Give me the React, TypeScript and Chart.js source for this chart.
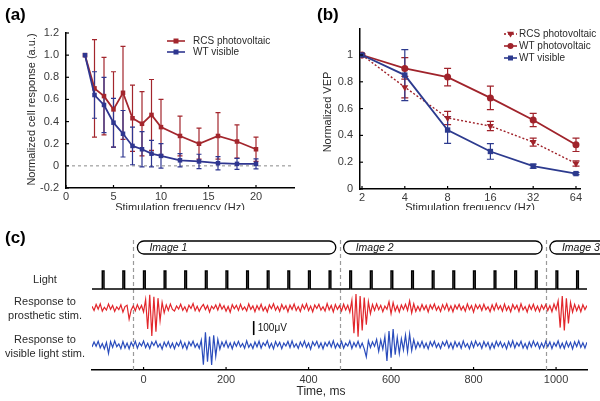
import React, { useEffect, useRef } from "react";
import { Chart, registerables } from "chart.js";

Chart.register(...registerables);

const FONT = '"Liberation Sans", Arial, Helvetica, sans-serif';
Chart.defaults.font.family = FONT;

// ---------------- Panel (a) data ----------------
const A_SERIES = ["RCS photovoltaic", "WT visible"];
const A_FREQ = [2, 3, 4, 5, 6, 7, 8, 9, 10, 12, 14, 16, 18, 20];
const A_RCS = [1.0, 0.70, 0.63, 0.51, 0.66, 0.43, 0.38, 0.46, 0.35, 0.27, 0.20, 0.27, 0.22, 0.15];
const A_RCS_ERR = [0, 0.44, 0.35, 0.34, 0.42, 0.30, 0.29, 0.32, 0.25, 0.18, 0.14, 0.21, 0.15, 0.11];
const A_WT = [1.0, 0.64, 0.55, 0.39, 0.29, 0.18, 0.15, 0.11, 0.09, 0.05, 0.04, 0.024, 0.018, 0.018];
const A_WT_ERR = [0, 0.21, 0.25, 0.22, 0.21, 0.17, 0.16, 0.12, 0.11, 0.06, 0.065, 0.06, 0.05, 0.045];
const A_X_TICKS = [0, 5, 10, 15, 20];
const A_Y_TICKS = [-0.2, 0, 0.2, 0.4, 0.6, 0.8, 1.0, 1.2];

// ---------------- Panel (b) data ----------------
const B_SERIES = ["RCS photovoltaic", "WT photovoltaic", "WT visible"];
const B_FREQ = [2, 4, 8, 16, 32, 64];
const B_RCS = [1.0, 0.76, 0.53, 0.47, 0.35, 0.19];
const B_RCS_ERR = [0, 0.08, 0.05, 0.035, 0.03, 0.02];
const B_WTP = [1.0, 0.90, 0.835, 0.68, 0.515, 0.33];
const B_WTP_ERR = [0, 0.08, 0.065, 0.087, 0.05, 0.05];
const B_WTV = [1.0, 0.85, 0.44, 0.28, 0.17, 0.115];
const B_WTV_ERR = [0, 0.19, 0.10, 0.058, 0.015, 0.008];
const B_X_TICKS = [2, 4, 8, 16, 32, 64];
const B_Y_TICKS = [0, 0.2, 0.4, 0.6, 0.8, 1];

// ---------------- Panel (c) data ----------------
const C_T0 = -125; // ms, time of first sample
const C_DT = 5; // ms between samples
const C_RED = [
  12, -18, 25, -8, 30, -22, 5, -15, 28, -10, 18, -25, 8, -12, 22, -30, 10, 20, -80, -14,
  15, -20, 24, -12, 18, -28, 60, -150, 95, -200, 80, -170, 70, -90, 40, -35, 22, -18, 28, -10,
  -22, 14, -8, 27, -16, 9, -26, 20, -4, 31, -19, 12, -24, 6, 25, -11, 17, -29, 13, -7,
  21, -15, 28, -9, 16, -23, 11, -30, 24, -6, 19, -17, 27, -13, 8, -21, 29, -10, 15, -26,
  18, -12, 26, -20, 7, -28, 22, -5, 30, -16, 12, -24, 25, -9, 17, -27, 20, -11, 28, -18,
  10, -25, 23, -8, 29, -19, 14, -27, 21, -4, 26, -15, 9, -22, 31, -13, 18, -28, 24, -10,
  16, -21, 27, -14, 20, -30, 55, -180, 100, -205, 85, -160, 75, -120, 45, -40, 25, -17, 29, -12,
  19, -26, 14, -9, 45, -40, 38, -22, 16, -28, 21, -11, 27, -18, 50, -35, 30, -24, 12, -20,
  25, -13, 18, -29, 22, -7, 28, -16, 11, -25, 24, -10, 30, -19, 15, -27, 20, -8, 26, -14,
  13, -23, 29, -11, 17, -30, 24, -6, 21, -18, 27, -12, 9, -26, 23, -15, 31, -9, 16, -22,
  28, -17, 12, -27, 25, -8, 19, -24, 30, -14, 10, -29, 22, -11, 26, -20, 14, -25, 21, -9,
  24, -18, 17, -26, 28, -12, 50, -140, 85, -160, 70, -110, 40, -30, 26, -20, 18, -27, 23, -11,
  17,
];
const C_BLUE = [
  -14, 22, -9, 27, -20, 11, -28, 18, -60, 24, -17, 30, -12, 8, -26, 25, -21, 14, -27, 19,
  -10, 26, -23, 16, -7, 29, -18, 12, -25, 21, -4, 28, -15, 9, -30, 20, -11, 24, -19, 13,
  -26, 17, -8, 30, -21, 14, -29, 23, -6, 27, -16, 10, -24, 35, -140, 90, -120, 60, -143, 70,
  -80, 40, -30, 22, -12, 28, -19, 15, -27, 20, -9, 26, -14, 11, -23, 29, -17, 8, -25, 21,
  -13, 27, -22, 16, -6, 30, -20, 12, -28, 24, -10, 19, -26, 14, -8, 25, -18, 29, -15, 9,
  -24, 21, -11, 28, -17, 13, -30, 22, -5, 26, -19, 15, -27, 18, -9, 24, -14, 30, -21, 11,
  -16, 25, -23, 12, -8, 29, -25, 17, -12, 27, -20, 14, -28, -85, 30, -18, 22, -10, 40, -45,
  35, -30, 60, -114, 100, -90, 114, -70, 55, -60, 45, -35, 70, -50, 80, -40, 38, -25, 20, -15,
  26, -20, 13, -28, 23, -9, 27, -17, 11, -25, 21, -6, 30, -19, 15, -27, 24, -12, 18, -23,
  29, -14, 10, -26, 22, -18, 28, -7, 16, -24, 25, -11, 19, -29, 13, -21, 27, -9, 23, -16,
  12, -28, 24, -13, 30, -20, 17, -8, 26, -22, 11, -27, 21, -15, 28, -10, 18, -25, 14, -19,
  27, -12, 22, -26, 16, -9, 29, -21, 13, -24, 25, -14, 19, -28, 23, -11, 30, -17, 15, -22,
  20,
];
const C_PULSES = [-100, -50, 0, 50, 100, 150, 200, 250, 300, 350, 400, 450, 500, 550, 600, 650, 700, 750, 800, 850, 900, 950, 1000, 1050];
const C_PULSE_WIDTH = 4; // ms
const C_SWITCH = [-25, 475, 975];
const C_IMAGES = ["Image 1", "Image 2", "Image 3"];
const C_IMAGE_START = [-15, 485, 985];
const C_IMAGE_END = [466, 966, 1466];
const C_X_TICKS = [0, 200, 400, 600, 800, 1000];
const C_SCALEBAR_UV = 100;

// ---------------- styles ----------------
const RED_A = "#a3262d";
const BLUE_A = "#2f3690";
const RED_B = "#a0232b";
const BLUE_B = "#2c3a8e";
const RED_C = "#e2262b";
const BLUE_C = "#2a4cbc";
const TICK_COLOR = "#3a3a3a";
const TEXT_COLOR = "#2a2a2a";

const fixedTicks = (vals: number[]) => (scale: any) => {
  scale.ticks = vals.map((v) => ({ value: v }));
};

function axisBase(extra: any) {
  return {
    bounds: "data",
    grid: { display: false, drawTicks: false },
    border: { display: true, color: "#000", width: 1.5 },
    ...extra,
  };
}

function drawInwardTicks(chart: any, id: string, len: number) {
  const s = chart.scales[id];
  const ctx = chart.ctx;
  const a = chart.chartArea;
  ctx.save();
  ctx.strokeStyle = "#000";
  ctx.lineWidth = 1.2;
  s.ticks.forEach((t: any) => {
    const p = s.getPixelForValue(t.value);
    ctx.beginPath();
    if (s.isHorizontal()) {
      ctx.moveTo(p, a.bottom);
      ctx.lineTo(p, a.bottom - len);
    } else {
      ctx.moveTo(a.left, p);
      ctx.lineTo(a.left + len, p);
    }
    ctx.stroke();
  });
  ctx.restore();
}

function drawErrorBars(ctx: any, xs: any, ys: any, xv: number[], yv: number[], ev: number[], color: string, cap: number) {
  ctx.save();
  ctx.strokeStyle = color;
  ctx.lineWidth = 1.2;
  for (let i = 0; i < xv.length; i++) {
    if (!ev[i]) continue;
    const x = xs.getPixelForValue(xv[i]);
    const t = ys.getPixelForValue(yv[i] + ev[i]);
    const b = ys.getPixelForValue(yv[i] - ev[i]);
    ctx.beginPath();
    ctx.moveTo(x, t);
    ctx.lineTo(x, b);
    ctx.moveTo(x - cap, t);
    ctx.lineTo(x + cap, t);
    ctx.moveTo(x - cap, b);
    ctx.lineTo(x + cap, b);
    ctx.stroke();
  }
  ctx.restore();
}

function drawMarker(ctx: any, kind: string, x: number, y: number, size: number, color: string) {
  ctx.save();
  ctx.fillStyle = color;
  ctx.beginPath();
  if (kind === "rect") {
    ctx.rect(x - size / 2, y - size / 2, size, size);
  } else if (kind === "circle") {
    ctx.arc(x, y, size / 2, 0, Math.PI * 2);
  } else {
    ctx.moveTo(x - size / 2, y - size / 3);
    ctx.lineTo(x + size / 2, y - size / 3);
    ctx.lineTo(x, y + size / 2);
    ctx.closePath();
  }
  ctx.fill();
  ctx.restore();
}

function drawLegendEntry(ctx: any, x0: number, x1: number, y: number, color: string, dash: number[], marker: string, msize: number, textX: number, label: string) {
  ctx.save();
  ctx.strokeStyle = color;
  ctx.lineWidth = 1.6;
  ctx.setLineDash(dash);
  ctx.beginPath();
  ctx.moveTo(x0, y);
  ctx.lineTo(x1, y);
  ctx.stroke();
  ctx.setLineDash([]);
  drawMarker(ctx, marker, (x0 + x1) / 2, y, msize, color);
  ctx.fillStyle = TEXT_COLOR;
  ctx.font = `10px ${FONT}`;
  ctx.textAlign = "left";
  ctx.textBaseline = "middle";
  ctx.fillText(label, textX, y + 0.5);
  ctx.restore();
}

function drawText(ctx: any, text: string, x: number, y: number, font: string, align = "center", rotate = 0, color = TEXT_COLOR) {
  ctx.save();
  ctx.fillStyle = color;
  ctx.font = font;
  ctx.textAlign = align;
  ctx.textBaseline = "middle";
  ctx.translate(x, y);
  if (rotate) ctx.rotate(rotate);
  ctx.fillText(text, 0, 0);
  ctx.restore();
}

// ---------------- Panel (a) ----------------
const plugA = {
  id: "plugA",
  beforeDatasetsDraw(chart: any) {
    const ctx = chart.ctx;
    const xs = chart.scales.x;
    const ys = chart.scales.y;
    const a = chart.chartArea;
    const y0 = ys.getPixelForValue(0);
    ctx.save();
    ctx.strokeStyle = "#8a8a8a";
    ctx.lineWidth = 1;
    ctx.setLineDash([3, 3]);
    ctx.beginPath();
    ctx.moveTo(a.left, y0);
    ctx.lineTo(a.right, y0);
    ctx.stroke();
    ctx.restore();
    drawErrorBars(ctx, xs, ys, A_FREQ, A_RCS, A_RCS_ERR, RED_A, 2.5);
    drawErrorBars(ctx, xs, ys, A_FREQ, A_WT, A_WT_ERR, BLUE_A, 2.5);
  },
  afterDraw(chart: any) {
    const ctx = chart.ctx;
    const a = chart.chartArea;
    drawInwardTicks(chart, "x", 3);
    drawInwardTicks(chart, "y", 3);
    drawText(ctx, "(a)", 5, 15, `bold 17px ${FONT}`, "left", 0, "#000");
    drawText(ctx, "Normalized cell response (a.u.)", 32, (a.top + a.bottom) / 2 - 1, `11px ${FONT}`, "center", -Math.PI / 2);
    drawText(ctx, "Stimulation frequency (Hz)", (a.left + a.right) / 2, 208, `11px ${FONT}`);
    const ds = chart.data.datasets;
    drawLegendEntry(ctx, 167, 185, 41, RED_A, [], "rect", 5, 193, ds[0].label);
    drawLegendEntry(ctx, 167, 185, 52, BLUE_A, [], "rect", 5, 193, ds[1].label);
  },
};

function configA(): any {
  const mk = (label: string, ys: number[], color: string, order: number) => ({
    label,
    data: A_FREQ.map((f, i) => ({ x: f, y: ys[i] })),
    borderColor: color,
    backgroundColor: color,
    borderWidth: 1.8,
    pointStyle: "rect",
    pointRadius: 3.2,
    pointBorderWidth: 0,
    pointBackgroundColor: color,
    order,
  });
  return {
    type: "line",
    data: { datasets: [mk(A_SERIES[0], A_RCS, RED_A, 1), mk(A_SERIES[1], A_WT, BLUE_A, 0)] },
    options: {
      responsive: false,
      animation: false,
      devicePixelRatio: 1,
      events: [],
      layout: { padding: { top: 33, right: 6, left: 0, bottom: 0 } },
      plugins: { legend: { display: false }, tooltip: { enabled: false } },
      scales: {
        x: axisBase({
          type: "linear",
          min: 0,
          max: 24,
          afterBuildTicks: fixedTicks(A_X_TICKS),
          afterFit: (s: any) => { s.height = 22; },
          ticks: { color: TICK_COLOR, font: { size: 11 }, padding: 2, maxRotation: 0, autoSkip: false, callback: (v: any) => String(v) },
        }),
        y: axisBase({
          type: "linear",
          min: -0.2,
          max: 1.2,
          afterBuildTicks: fixedTicks(A_Y_TICKS),
          afterFit: (s: any) => { s.width = 66; },
          ticks: { color: TICK_COLOR, font: { size: 11 }, padding: 7, autoSkip: false, callback: (v: any) => (Math.abs(v) < 1e-9 ? "0" : Number(v).toFixed(1)) },
        }),
      },
    },
    plugins: [plugA],
  };
}

// ---------------- Panel (b) ----------------
const plugB = {
  id: "plugB",
  beforeDatasetsDraw(chart: any) {
    const ctx = chart.ctx;
    const xs = chart.scales.x;
    const ys = chart.scales.y;
    drawErrorBars(ctx, xs, ys, B_FREQ, B_RCS, B_RCS_ERR, RED_B, 3.5);
    drawErrorBars(ctx, xs, ys, B_FREQ, B_WTP, B_WTP_ERR, RED_B, 3.5);
    drawErrorBars(ctx, xs, ys, B_FREQ, B_WTV, B_WTV_ERR, BLUE_B, 3.5);
  },
  afterDraw(chart: any) {
    const ctx = chart.ctx;
    const a = chart.chartArea;
    drawInwardTicks(chart, "x", 3);
    drawInwardTicks(chart, "y", 3);
    drawText(ctx, "(b)", 17, 15, `bold 17px ${FONT}`, "left", 0, "#000");
    drawText(ctx, "Normalized VEP", 28, 112, `11px ${FONT}`, "center", -Math.PI / 2);
    drawText(ctx, "Stimulation frequency (Hz)", (a.left + a.right) / 2, 208, `11px ${FONT}`);
    const ds = chart.data.datasets;
    drawLegendEntry(ctx, 204, 217, 34, RED_B, [2, 2], "tri", 7, 219, ds[0].label);
    drawLegendEntry(ctx, 204, 217, 46, RED_B, [], "circle", 6, 219, ds[1].label);
    drawLegendEntry(ctx, 204, 217, 58, BLUE_B, [], "rect", 5, 219, ds[2].label);
  },
};

function configB(): any {
  const mk = (label: string, ys: number[], color: string, style: string, radius: number, dash: number[], rot: number, order: number) => ({
    label,
    data: B_FREQ.map((f, i) => ({ x: f, y: ys[i] })),
    borderColor: color,
    backgroundColor: color,
    borderWidth: dash.length ? 1.4 : 1.8,
    borderDash: dash,
    pointStyle: style,
    pointRadius: radius,
    pointRotation: rot,
    pointBorderWidth: 0,
    pointBackgroundColor: color,
    order,
  });
  return {
    type: "line",
    data: {
      datasets: [
        mk(B_SERIES[0], B_RCS, RED_B, "triangle", 4, [2, 2], 180, 2),
        mk(B_SERIES[1], B_WTP, RED_B, "circle", 3.5, [], 0, 1),
        mk(B_SERIES[2], B_WTV, BLUE_B, "rect", 3.8, [], 0, 0),
      ],
    },
    options: {
      responsive: false,
      animation: false,
      devicePixelRatio: 1,
      events: [],
      layout: { padding: { top: 29, right: 20, left: 0, bottom: 0 } },
      plugins: { legend: { display: false }, tooltip: { enabled: false } },
      scales: {
        x: axisBase({
          type: "logarithmic",
          min: 1.936,
          max: 68.3,
          afterBuildTicks: fixedTicks(B_X_TICKS),
          afterFit: (s: any) => { s.height = 21; },
          ticks: { color: TICK_COLOR, font: { size: 11 }, padding: 2, maxRotation: 0, autoSkip: false, callback: (v: any) => String(v) },
        }),
        y: axisBase({
          type: "linear",
          min: 0,
          max: 1.194,
          afterBuildTicks: fixedTicks(B_Y_TICKS),
          afterFit: (s: any) => { s.width = 60; },
          ticks: { color: TICK_COLOR, font: { size: 11 }, padding: 7, autoSkip: false, callback: (v: any) => (v === 0 || v === 1 ? String(v) : Number(v).toFixed(1)) },
        }),
      },
    },
    plugins: [plugB],
  };
}

// ---------------- Panel (c) ----------------
function pill(ctx: any, x0: number, x1: number, yTop: number, yBot: number) {
  const r = (yBot - yTop) / 2;
  const yc = (yTop + yBot) / 2;
  ctx.beginPath();
  ctx.moveTo(x0 + r, yTop);
  ctx.lineTo(x1 - r, yTop);
  ctx.arc(x1 - r, yc, r, -Math.PI / 2, Math.PI / 2);
  ctx.lineTo(x0 + r, yBot);
  ctx.arc(x0 + r, yc, r, Math.PI / 2, (3 * Math.PI) / 2);
  ctx.closePath();
  ctx.stroke();
}

const plugC = {
  id: "plugC",
  beforeDatasetsDraw(chart: any) {
    const ctx = chart.ctx;
    const xs = chart.scales.x;
    const a = chart.chartArea;
    ctx.save();
    ctx.strokeStyle = "#9a9a9a";
    ctx.lineWidth = 1.2;
    ctx.setLineDash([4, 3]);
    C_SWITCH.forEach((t) => {
      const x = Math.round(xs.getPixelForValue(t)) + 0.5;
      ctx.beginPath();
      ctx.moveTo(x, 30);
      ctx.lineTo(x, a.bottom);
      ctx.stroke();
    });
    ctx.restore();
  },
  afterDraw(chart: any) {
    const ctx = chart.ctx;
    const xs = chart.scales.x;
    const yB = chart.scales.yB;
    drawInwardTicks(chart, "x", 3);
    // image boxes
    ctx.save();
    ctx.strokeStyle = "#000";
    ctx.lineWidth = 1.3;
    C_IMAGES.forEach((name, i) => {
      const x0 = xs.getPixelForValue(C_IMAGE_START[i]);
      const x1 = xs.getPixelForValue(C_IMAGE_END[i]);
      pill(ctx, x0, x1, 31, 44);
      drawText(ctx, name, x0 + 12, 38, `italic 10.5px ${FONT}`, "left", 0, "#111");
    });
    ctx.restore();
    // scale bar
    const sbX = xs.getPixelForValue(267);
    const sbB = yB.getPixelForValue(71);
    const sbT = yB.getPixelForValue(71 + C_SCALEBAR_UV);
    ctx.save();
    ctx.strokeStyle = "#000";
    ctx.lineWidth = 1.6;
    ctx.beginPath();
    ctx.moveTo(sbX, sbB);
    ctx.lineTo(sbX, sbT);
    ctx.stroke();
    ctx.restore();
    drawText(ctx, `${C_SCALEBAR_UV}μV`, sbX + 4, (sbB + sbT) / 2, `10px ${FONT}`, "left", 0, "#111");
    // row labels
    const lf = `11px ${FONT}`;
    drawText(ctx, "Light", 45, 70, lf);
    drawText(ctx, "Response to", 45, 92, lf);
    drawText(ctx, "prosthetic stim.", 45, 106, lf);
    drawText(ctx, "Response to", 45, 130, lf);
    drawText(ctx, "visible light stim.", 45, 144, lf);
    drawText(ctx, "(c)", 5, 28, `bold 17px ${FONT}`, "left", 0, "#000");
    drawText(ctx, "Time, ms", 321, 182, `12px ${FONT}`);
  },
};

function configC(): any {
  const tEnd = C_T0 + (C_RED.length - 1) * C_DT;
  const light: any[] = [{ x: C_T0, y: 0 }];
  C_PULSES.forEach((p) => {
    light.push({ x: p, y: 0 }, { x: p, y: 1 }, { x: p + C_PULSE_WIDTH, y: 1 }, { x: p + C_PULSE_WIDTH, y: 0 });
  });
  light.push({ x: tEnd, y: 0 });
  const trace = (vals: number[]) => vals.map((v, i) => ({ x: C_T0 + i * C_DT, y: v }));
  const hidden = (min: number, max: number) => ({ type: "linear", display: false, bounds: "data", min, max });
  return {
    type: "line",
    data: {
      datasets: [
        { label: "Light", data: light, yAxisID: "yL", borderColor: "#000", borderWidth: 1.5, pointRadius: 0, borderJoinStyle: "miter" },
        { label: "Response to prosthetic stim.", data: trace(C_RED), yAxisID: "yR", borderColor: RED_C, borderWidth: 1.2, pointRadius: 0 },
        { label: "Response to visible light stim.", data: trace(C_BLUE), yAxisID: "yB", borderColor: BLUE_C, borderWidth: 1.2, pointRadius: 0 },
      ],
    },
    options: {
      responsive: false,
      animation: false,
      devicePixelRatio: 1,
      events: [],
      layout: { padding: { top: 27, right: 13, left: 92, bottom: 0 } },
      plugins: { legend: { display: false }, tooltip: { enabled: false } },
      scales: {
        x: axisBase({
          type: "linear",
          min: C_T0,
          max: tEnd,
          afterBuildTicks: fixedTicks(C_X_TICKS),
          afterFit: (s: any) => { s.height = 31; },
          ticks: { color: TICK_COLOR, font: { size: 11 }, padding: 3, maxRotation: 0, autoSkip: false, callback: (v: any) => String(v) },
        }),
        yL: hidden(-4.5, 2.889),
        yR: hidden(-443, 507),
        yB: hidden(-178.6, 771.4),
      },
    },
    plugins: [plugC],
  };
}

export default function App() {
  const aRef = useRef<HTMLCanvasElement>(null);
  const bRef = useRef<HTMLCanvasElement>(null);
  const cRef = useRef<HTMLCanvasElement>(null);
  useEffect(() => {
    const charts = [
      new Chart(aRef.current as HTMLCanvasElement, configA()),
      new Chart(bRef.current as HTMLCanvasElement, configB()),
      new Chart(cRef.current as HTMLCanvasElement, configC()),
    ];
    return () => charts.forEach((c) => c.destroy());
  }, []);
  return (
    <div style={{ position: "absolute", left: 0, top: 0, width: 600, height: 401, background: "#fff", overflow: "hidden" }}>
      <canvas ref={aRef} width={300} height={210} style={{ position: "absolute", left: 0, top: 0 }} />
      <canvas ref={bRef} width={300} height={210} style={{ position: "absolute", left: 300, top: 0 }} />
      <canvas ref={cRef} width={600} height={191} style={{ position: "absolute", left: 0, top: 210 }} />
    </div>
  );
}
